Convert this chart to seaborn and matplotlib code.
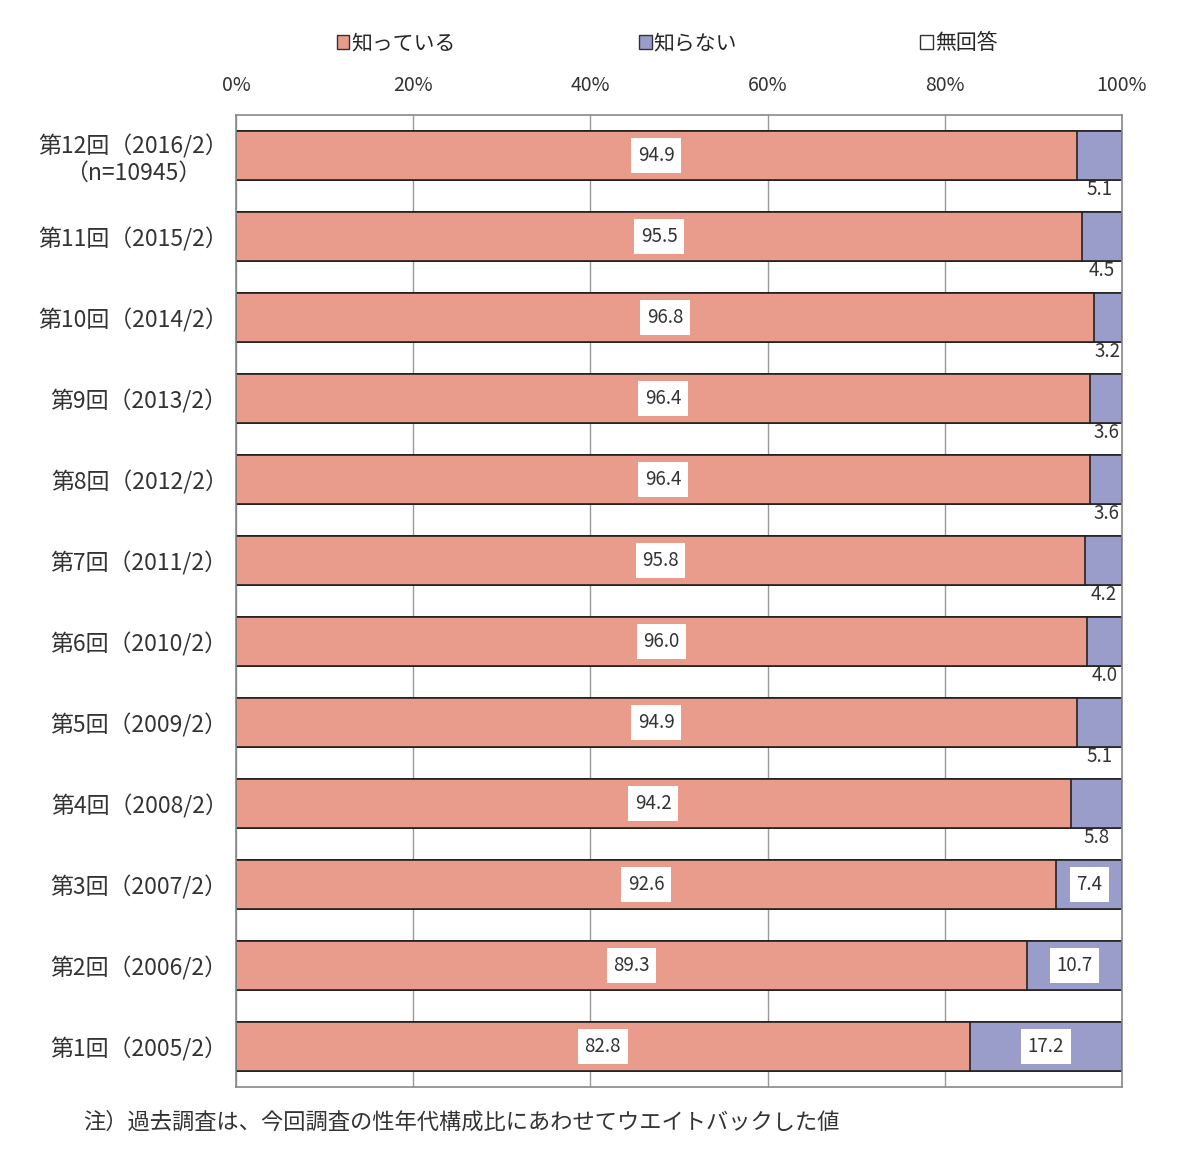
import matplotlib
matplotlib.use("Agg")
import matplotlib.pyplot as plt
from matplotlib.patches import Patch
import seaborn as sns
import pandas as pd

# データ
kaisu = ["第12回（2016/2）\n（n=10945）", "第11回（2015/2）", "第10回（2014/2）", "第9回（2013/2）",
         "第8回（2012/2）", "第7回（2011/2）", "第6回（2010/2）", "第5回（2009/2）",
         "第4回（2008/2）", "第3回（2007/2）", "第2回（2006/2）", "第1回（2005/2）"]
shitteiru = [94.9, 95.5, 96.8, 96.4, 96.4, 95.8, 96.0, 94.9, 94.2, 92.6, 89.3, 82.8]
shiranai = [5.1, 4.5, 3.2, 3.6, 3.6, 4.2, 4.0, 5.1, 5.8, 7.4, 10.7, 17.2]
mukaitou = [0.0] * 12
ticks = [0, 20, 40, 60, 80, 100]
series_names = ["知っている", "知らない", "無回答"]

pink = "#E99C8C"
blue = "#9A9CC9"

sns.set_style("white")
plt.rcParams["font.family"] = ["Noto Sans CJK JP", "DejaVu Sans"]

df = pd.DataFrame({"kaisu": kaisu, "shitteiru": shitteiru, "shiranai": shiranai, "mukaitou": mukaitou})
df["total"] = df["shitteiru"] + df["shiranai"] + df["mukaitou"]
df["known_unknown"] = df["shitteiru"] + df["shiranai"]

fig = plt.figure(figsize=(12, 11.73), dpi=100)
ax = fig.add_axes([0.1967, 0.0733, 0.7383, 0.8287])

# 積み上げ（後ろから重ねる）
sns.barplot(data=df, y="kaisu", x="total", color="white", orient="h", width=0.6,
            edgecolor="#222222", linewidth=1.2, ax=ax, saturation=1)
sns.barplot(data=df, y="kaisu", x="known_unknown", color=blue, orient="h", width=0.6,
            edgecolor="#222222", linewidth=1.2, ax=ax, saturation=1)
sns.barplot(data=df, y="kaisu", x="shitteiru", color=pink, orient="h", width=0.6,
            edgecolor="#222222", linewidth=1.2, ax=ax, saturation=1)

ax.set_xlim(0, 100)
ax.set_ylim(11.5, -0.5)
ax.set_xticks(ticks)
ax.set_xticklabels([f"{t}%" for t in ticks], fontsize=14, color="#333333")
ax.xaxis.tick_top()
ax.tick_params(axis="x", length=0, pad=14)
ax.tick_params(axis="y", length=0, pad=6, labelsize=16.5, labelcolor="#333333")
ax.set_xlabel("")
ax.set_ylabel("")
for t in ax.get_yticklabels():
    t.set_multialignment("center")
ax.xaxis.grid(True, color="#999999", linewidth=1)
ax.set_axisbelow(True)
for s in ax.spines.values():
    s.set_color("#888888")
    s.set_linewidth(1.2)

# ラベル
box = dict(boxstyle="square,pad=0.35", facecolor="white", edgecolor="none")
for i in range(len(kaisu)):
    ax.text(shitteiru[i] / 2, i, f"{shitteiru[i]:.1f}", ha="center", va="center",
            fontsize=13.5, color="#333333", bbox=box, zorder=5)
    xc = shitteiru[i] + shiranai[i] / 2
    if shiranai[i] >= 7:
        ax.text(xc, i, f"{shiranai[i]:.1f}", ha="center", va="center",
                fontsize=13.5, color="#333333", bbox=box, zorder=5)
    else:
        ax.text(xc, i + 0.42, f"{shiranai[i]:.1f}", ha="center", va="center",
                fontsize=13.5, color="#333333", zorder=5, clip_on=True)

# 凡例
handles = [Patch(facecolor=c, edgecolor="#333333", linewidth=1) for c in [pink, blue, "white"]]
fig.legend(handles, series_names, loc="center", bbox_to_anchor=(0.556, 0.963), ncol=3,
           frameon=False, fontsize=15, handlelength=0.6, handleheight=0.6,
           handletextpad=0.1, columnspacing=8.8)

fig.text(0.069, 0.043, "注）過去調査は、今回調査の性年代構成比にあわせてウエイトバックした値",
         fontsize=16, color="#333333", ha="left", va="center")

fig.savefig("out.png", dpi=100, facecolor="white")
